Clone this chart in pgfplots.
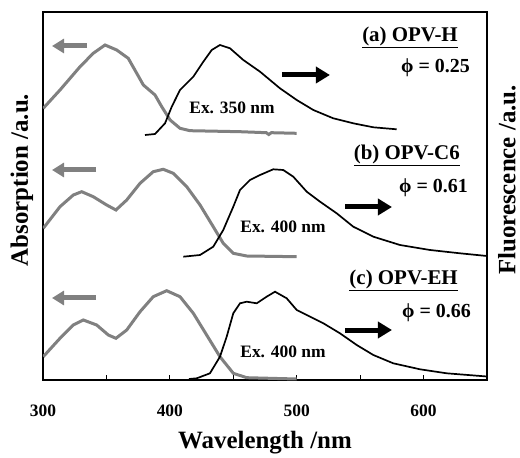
\documentclass[border=0pt]{standalone}
\usepackage{fontspec}
\setmainfont{Liberation Serif}
\usepackage{pgfplots}
\pgfplotsset{compat=1.18}
\usetikzlibrary{arrows.meta}
\definecolor{absgray}{HTML}{808080}
\begin{document}
\begin{tikzpicture}
\begin{axis}[
  scale only axis,
  width=444bp, height=368bp,
  xmin=300, xmax=650, ymin=0, ymax=368,
  axis line style={line width=1.8bp},
  xtick={300,400,500,600},
  minor xtick={350,450,550},
  xtick pos=bottom,
  tick align=inside,
  major tick length=5bp, minor tick length=5bp,
  every tick/.style={line width=1.2bp, black},
  ytick=\empty,
  /pgf/number format/assume math mode=true,
  xticklabel style={font=\fontsize{17.5}{17.5}\selectfont\bfseries, yshift=-21bp},
  xlabel={Wavelength /nm},
  xlabel style={font=\fontsize{25}{25}\selectfont\bfseries, at={(axis description cs:0.5,0)}, anchor=center, yshift=-63bp},
  clip=true,
]
% (a) OPV-H absorption
\addplot[absgray, line width=3bp] coordinates {
(300.2,271.7)(313.4,290)(329.2,313.3)(339.6,326.7)(348.9,335)(358.1,330)(367.2,321.7)(373.9,306.7)(379.1,295)(388.3,285)(393.6,273.3)(400.2,260)(408.0,251.7)(415.9,249.3)(455.3,248.3)(476,247.3)(478,245.5)(480,247.3)(500,246.7)};
% (a) fluorescence
\addplot[black, line width=1.7bp] coordinates {
(380.4,245)(388.3,246)(396.2,256.7)(401.5,273.3)(408.0,290)(418.5,303.3)(426.4,318.3)(433.0,330)(439.5,335)(447.4,331.7)(457.9,320)(471.1,308.3)(486.8,291.7)(500,280)(513.1,270)(528.8,261.7)(544.6,256.7)(560.4,252.7)(578.8,250.7)};
% (b) OPV-C6 absorption
\addplot[absgray, line width=3bp] coordinates {
(300.2,151.7)(313.4,173.3)(323.9,185)(330.5,188.3)(339.6,183.3)(350.2,175)(357.5,170)(366.0,180)(376.5,196.7)(386.9,208.3)(394.8,210.7)(402.7,206.7)(413.3,193.3)(423.8,175)(434.2,153.3)(442.1,136.7)(450.0,126.7)(460.6,124)(500,123.3)};
% (b) fluorescence
\addplot[black, line width=1.7bp] coordinates {
(410.6,123.3)(423.8,125)(434.2,133.3)(442.1,150)(450.0,173.3)(455.3,190)(463.2,200)(471.1,205)(481.5,210.7)(489.4,210)(497.3,203.3)(507.9,188.3)(518.4,178.3)(531.5,166.7)(544.6,153.3)(560.4,143.3)(581.4,135)(605.1,130)(628.7,126.7)(650,124)};
% (c) OPV-EH absorption
\addplot[absgray, line width=3bp] coordinates {
(300.2,23.3)(313.4,41.7)(323.9,55)(331.8,60)(342.3,55)(351.5,45)(357.5,41.7)(366.0,50)(376.5,68.3)(386.9,83.3)(397.5,89.3)(408.0,83.3)(418.5,66.7)(429.0,45)(439.5,23.3)(450.0,6.7)(460.6,2.3)(500,1)};
% (c) fluorescence
\addplot[black, line width=1.7bp] coordinates {
(415,1)(421.2,1.7)(431.6,6.7)(439.5,23.3)(444.8,43.3)(450.0,66.7)(455.3,76.7)(460.6,78.3)(468.5,76.7)(476.3,83.3)(482.9,88.3)(492.1,81.7)(500,70)(507.9,65)(521.0,56.7)(534.1,46.7)(547.3,35)(560.4,25)(576.1,16.7)(597.2,10.7)(618.2,6.7)(650,3.5)};

% arrows
\draw[absgray, line width=5bp, -{Triangle[length=12bp,width=14bp]}] (axis cs:334.7,334) -- (axis cs:307.1,334);
\draw[absgray, line width=5bp, -{Triangle[length=12bp,width=14bp]}] (axis cs:341.8,210) -- (axis cs:307.1,210);
\draw[absgray, line width=5bp, -{Triangle[length=12bp,width=14bp]}] (axis cs:341.8,82) -- (axis cs:307.1,82);
\draw[black, line width=5bp, -{Triangle[length=14bp,width=16bp]}] (axis cs:488.4,305) -- (axis cs:526.2,305);
\draw[black, line width=5bp, -{Triangle[length=14bp,width=16bp]}] (axis cs:538.1,173) -- (axis cs:575.1,173);
\draw[black, line width=5bp, -{Triangle[length=14bp,width=16bp]}] (axis cs:538.1,50) -- (axis cs:575.1,50);

% labels
\node[anchor=east, font=\fontsize{21}{21}\selectfont\bfseries, inner sep=0pt] at (axis cs:627.1,343) {\underline{(a) OPV-H}};
\node[anchor=east, font=\fontsize{20}{20}\selectfont\bfseries, inner sep=0pt] at (axis cs:636.6,312) {ϕ = 0.25};
\node[anchor=east, font=\fontsize{21}{21}\selectfont\bfseries, inner sep=0pt] at (axis cs:628.7,225) {\underline{(b) OPV-C6}};
\node[anchor=east, font=\fontsize{20}{20}\selectfont\bfseries, inner sep=0pt] at (axis cs:635,192) {ϕ = 0.61};
\node[anchor=east, font=\fontsize{21}{21}\selectfont\bfseries, inner sep=0pt] at (axis cs:627.1,100) {\underline{(c) OPV-EH}};
\node[anchor=east, font=\fontsize{20}{20}\selectfont\bfseries, inner sep=0pt] at (axis cs:637.4,67) {ϕ = 0.66};
\node[font=\fontsize{17.5}{17.5}\selectfont\bfseries, inner sep=0pt] at (axis cs:449,272) {Ex. 350 nm};
\node[font=\fontsize{17.5}{17.5}\selectfont\bfseries, inner sep=0pt] at (axis cs:489.2,153) {Ex. 400 nm};
\node[font=\fontsize{17.5}{17.5}\selectfont\bfseries, inner sep=0pt] at (axis cs:489.2,28) {Ex. 400 nm};
\end{axis}
\node[rotate=90, inner sep=0pt, font=\fontsize{25}{25}\selectfont\bfseries] at ([shift={(-21bp,200bp)}]current axis.south west) {Absorption /a.u.};
\node[rotate=90, inner sep=0pt, font=\fontsize{25}{25}\selectfont\bfseries] at ([shift={(20bp,200bp)}]current axis.south east) {Fluorescence /a.u.};
\path (current axis.south west) ++(-43bp,-73bp) rectangle ++(520bp,453bp);
\end{tikzpicture}
\end{document}
